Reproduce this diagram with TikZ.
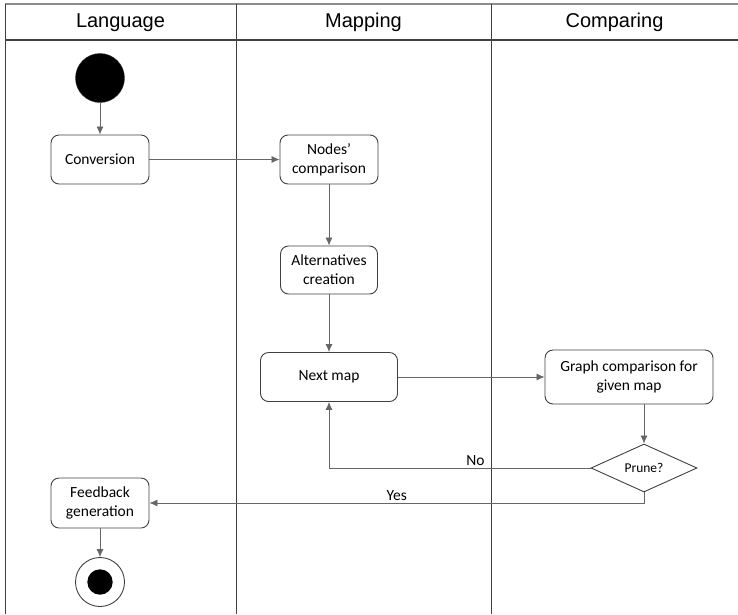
\documentclass[tikz,border=0pt]{standalone}
\usepackage{fontspec}
\setmainfont{Carlito}
\newfontfamily\headfont{Liberation Sans}
\usetikzlibrary{arrows.meta,shapes.geometric}

\begin{document}
\begin{tikzpicture}[x=1pt, y=-1pt, >={Latex[length=8pt,width=7pt]},
  act/.style={draw=black!75, line width=0.9pt, rounded corners=8pt, align=center,
    font=\fontsize{15.5}{19}\selectfont, inner sep=2pt},
  flow/.style={->, draw=black!60, line width=0.8pt},
  lane/.style={draw=black!75, line width=1pt},
  lanehead/.style={font=\headfont\fontsize{20}{24}\selectfont}]
  % --- lane parameters ---
  \def\xl{5}
  \def\xa{236}
  \def\xb{491}
  \def\xr{738}
  \def\ytop{4}
  \def\yhead{40}
  \def\ybot{614}

  \useasboundingbox (0,0) rectangle (738,614);

  % lanes
  \draw[black!45, line width=1.2pt] (\xl,\ytop) -- (\xr,\ytop);
  \draw[lane, line width=1.8pt] (\xl,\yhead) -- (\xr,\yhead);
  \draw[lane] (\xl,\ytop) -- (\xl,\ybot);
  \draw[lane] (\xa,\ytop) -- (\xa,\ybot);
  \draw[lane] (\xb,\ytop) -- (\xb,\ybot);

  % lane titles
  \node[lanehead] (hlang) at ({(\xl+\xa)/2},22.5) {Language};
  \node[lanehead] (hmap)  at ({(\xa+\xb)/2},22.5) {Mapping};
  \node[lanehead] (hcmp)  at ({(\xb+\xr)/2},22.5) {Comparing};

  % --- activities ---
  \node[circle, fill=black, draw=black!80, minimum size=49pt, inner sep=0pt] (start) at (100,78) {};
  \node[act, minimum width=98pt, minimum height=49pt] (conv) at (100,159.5) {Conversion};
  \node[act, minimum width=98pt, minimum height=49pt] (nodescmp) at (329,159.5) {Nodes’\\comparison};
  \node[act, minimum width=97pt, minimum height=48pt] (alt) at (329,270) {Alternatives\\creation};
  \node[act, minimum width=137pt, minimum height=49pt] (next) at (329,377) {Next map};
  \node[act, minimum width=168pt, minimum height=54pt] (graph) at (629,377) {Graph comparison for\\given map};
  \node[draw=black!75, line width=0.9pt, diamond, aspect=2.2, minimum width=106pt, minimum height=48pt,
    inner sep=0pt, font=\fontsize{13.5}{16}\selectfont] (prune) at (644,468) {Prune?};
  \node[act, minimum width=98pt, minimum height=50pt] (feed) at (100,503) {Feedback\\generation};
  \node[circle, draw=black!75, line width=0.9pt, minimum size=49pt, inner sep=0pt] (end) at (100,582) {};
  \fill (end.center) circle (12.7pt);

  % --- flows ---
  \draw[flow] (start) -- (conv);
  \draw[flow] (conv) -- (nodescmp);
  \draw[flow] (nodescmp) -- (alt);
  \draw[flow] (alt) -- (next);
  \draw[flow] (next) -- (graph);
  \draw[flow] (prune.north |- graph.south) -- (prune.north);
  \draw[flow] (feed) -- (end);

  % decision
  \draw[flow] (prune.west) -| (next.south)
    node[pos=0.22, above, inner sep=2pt, font=\fontsize{15.5}{19}\selectfont] {No};
  \draw[flow] (prune.south) |- (feed.east)
    node[pos=0.75, above, inner sep=2pt, font=\fontsize{15.5}{19}\selectfont] {Yes};
\end{tikzpicture}
\end{document}
